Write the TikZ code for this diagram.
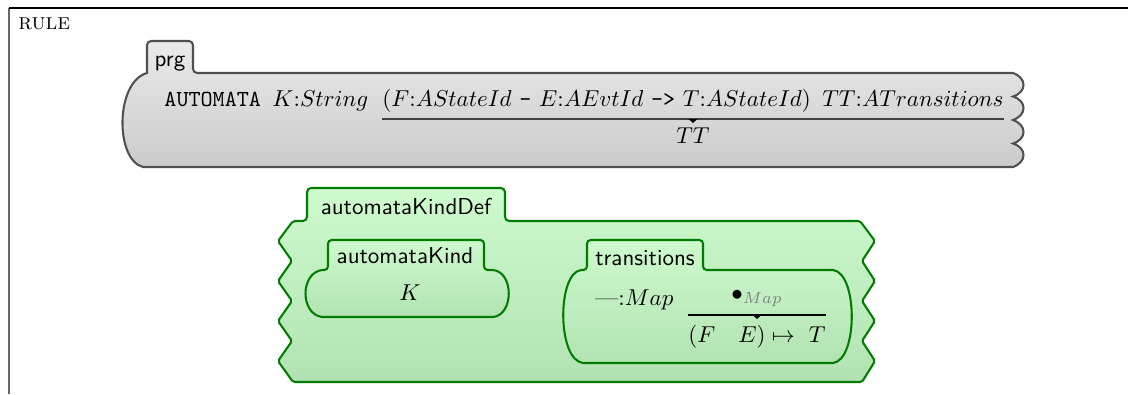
\documentclass[tikz,border=0pt]{standalone}
\usepackage{fontspec}
\usepackage{graphicx}
\definecolor{gtop}{RGB}{234,234,234}
\definecolor{gbot}{RGB}{203,203,203}
\definecolor{gline}{RGB}{80,80,80}
\definecolor{ntop}{RGB}{206,250,206}
\definecolor{nbot}{RGB}{178,226,178}
\definecolor{nline}{RGB}{0,125,0}
\font\rulefont=cmcsc10 at 10pt
\newcommand\tabfont{\sffamily\addfontfeatures{LetterSpace=5}}
\tikzset{
  grayblk/.style={draw=gline, line width=0.9pt, top color=gtop, bottom color=gbot},
  greenblk/.style={draw=nline, line width=0.9pt, top color=ntop, bottom color=nbot},
  tablbl/.style={anchor=base, inner sep=0pt, font=\tabfont},
  txt/.style={anchor=base west, inner sep=0pt},
  ctxt/.style={anchor=base, inner sep=0pt},
  fracline/.style={line width=0.45pt},
  marker/.style={fill=black, draw=none},
}
\begin{document}
\begin{tikzpicture}[x=0.435pt, y=-0.435pt]
\useasboundingbox (0,0) rectangle (1128,394);
% frame
\coordinate (fa) at (9,394);
\coordinate (fb) at (9,8);
\coordinate (fc) at (1128,8);
\draw[black!60, line width=0.9pt] (fa) -- (fb);
\draw[black, line width=0.8pt] (fb) -- (fc);
\node[txt] (rule) at (18,29) {\resizebox{22.5pt}{!}{\rulefont rule}};

% prg block
\path[grayblk] (147,73) [rounded corners=1.8pt] -- (147,41) -- (193,41) -- (193,73) -- (260,73) [sharp corners] -- (1013,73)
  .. controls (1027,78) and (1027,92) .. (1013,96.5)
  .. controls (1027,101) and (1027,115) .. (1013,120)
  .. controls (1027,125) and (1027,139) .. (1013,143.5)
  .. controls (1027,148) and (1027,162) .. (1013,167)
  -- (143,167) .. controls (115,160) and (115,82) .. (147,73) -- cycle;
\node[tablbl] (prg) at (170,66) {prg};
\node[txt] (kw) at (164,106) {\texttt{AUTOMATA}};
\node[txt] (ks) at (272,106) {$K{:}String$};
\node[txt] (num) at (382,106) {$(F{:}AStateId$ \texttt{-} $E{:}AEvtId$ \texttt{->} $T{:}AStateId)$\, $TT{:}ATransitions$};
\coordinate (l1) at (0,119);
\coordinate (d1) at (0,143);
\draw[fracline, gline!80!black] (num.west |- l1) -- (num.east |- l1);
\fill[marker] (num.center |- l1) ++(-4.5,0) -- ++(9,0) -- ++(-4.5,4) -- cycle;
\node[ctxt] (den) at (num.center |- d1) {$TT$};

% automataKindDef block
\path[greenblk] (293,221) [rounded corners=1.8pt] -- (307,221) -- (307,188) -- (505,188) -- (505,221) -- (600,221) [rounded corners=0.8pt] -- (860,221)
  -- (875,241) -- (862,261) -- (875,281) -- (862,301) -- (875,321) -- (862,341) -- (875,361) -- (862,382)
  -- (293,382) -- (278,361) -- (292,341) -- (278,321) -- (292,301) -- (278,281) -- (292,261) -- (278,241) -- cycle;
\node[tablbl] (akd) at (406,214) {automataKindDef};

% automataKind sub-block
\path[greenblk] (322,270) [rounded corners=1.6pt] -- (328,270) -- (328,240) -- (484,240) -- (484,270) -- (490,270) [sharp corners] -- (493,270)
  .. controls (514,272) and (514,315) .. (493,317) -- (322,317)
  .. controls (300,314) and (300,273) .. (322,270) -- cycle;
\node[tablbl] (ak) at (405,263) {automataKind};
\node[ctxt] (kk) at (410,300) {$K$};

% transitions sub-block
\path[greenblk] (581,270) [rounded corners=1.6pt] -- (587,270) -- (587,240) -- (703,240) -- (703,270) -- (710,270) [sharp corners] -- (833,270)
  .. controls (858,273) and (858,360) .. (833,363) -- (583,363)
  .. controls (557,360) and (557,273) .. (581,270) -- cycle;
\node[tablbl] (tr) at (645,265) {transitions};
\node[txt] (map) at (595,305) {$\mbox{---}{:}Map$};
\coordinate (l2) at (0,315);
\node[ctxt] (n2) at (757,300) {$\bullet_{\color{gray}Map}$};
\node[ctxt] (d2) at (757,342) {$(F\quad E)\mapsto\ T$};
\draw[fracline] (d2.west |- l2) -- (d2.east |- l2);
\fill[marker] (d2.center |- l2) ++(-4.5,0) -- ++(9,0) -- ++(-4.5,4) -- cycle;
\end{tikzpicture}
\end{document}
